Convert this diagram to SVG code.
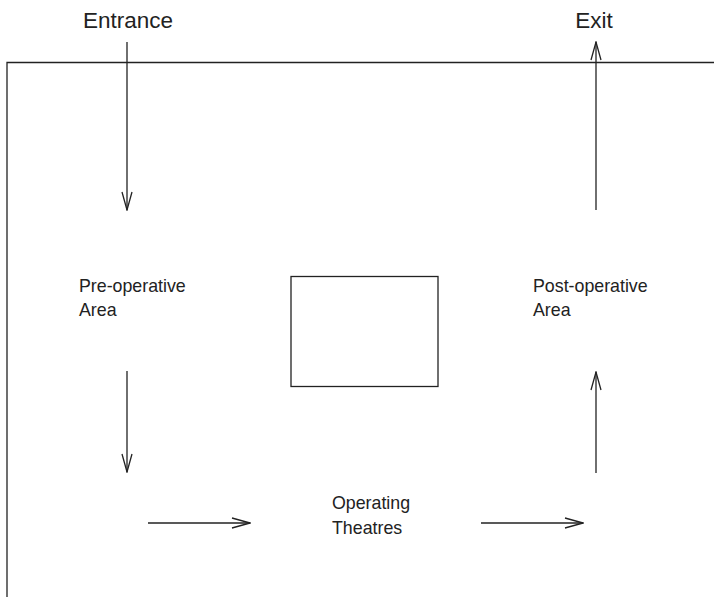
<svg xmlns="http://www.w3.org/2000/svg" width="714" height="597" viewBox="0 0 714 597">
<style>
.ln{stroke:#222;stroke-width:1.3;fill:none}
.t{font-family:"Liberation Sans",Arial,sans-serif;fill:#222}
.big{font-size:22.5px}
.sm{font-size:17.8px}
</style>
<defs>
<marker id="ah" viewBox="0 0 20 12" refX="19" refY="6" markerWidth="20" markerHeight="12" markerUnits="userSpaceOnUse" orient="auto">
<path d="M1,1 L19,6 L1,11" fill="none" stroke="#222" stroke-width="1.3"/>
</marker>
</defs>
<rect width="714" height="597" fill="#fff"/>
<g id="frame">
<path class="ln" d="M7,597 V62.5 H714"/>
</g>
<g id="entrance"><text class="t big" x="128" y="28" text-anchor="middle">Entrance</text></g>
<g id="exit"><text class="t big" x="594" y="28" text-anchor="middle">Exit</text></g>
<g id="preop"><text class="t sm" x="79" y="292">Pre-operative</text><text class="t sm" x="79" y="316">Area</text></g>
<g id="postop"><text class="t sm" x="533" y="292">Post-operative</text><text class="t sm" x="533" y="316">Area</text></g>
<g id="theatres"><text class="t sm" x="332" y="509">Operating</text><text class="t sm" x="332" y="534">Theatres</text></g>
<g id="box"><rect class="ln" x="291" y="276.5" width="147" height="110"/></g>
<g id="connectors">
<line class="ln" x1="127" y1="42" x2="127" y2="210" marker-end="url(#ah)"/>
<line class="ln" x1="596" y1="210" x2="596" y2="42" marker-end="url(#ah)"/>
<line class="ln" x1="127" y1="371" x2="127" y2="472" marker-end="url(#ah)"/>
<line class="ln" x1="596" y1="473" x2="596" y2="372" marker-end="url(#ah)"/>
<line class="ln" x1="148" y1="523" x2="250" y2="523" marker-end="url(#ah)"/>
<line class="ln" x1="481" y1="523" x2="583" y2="523" marker-end="url(#ah)"/>
</g>
</svg>
